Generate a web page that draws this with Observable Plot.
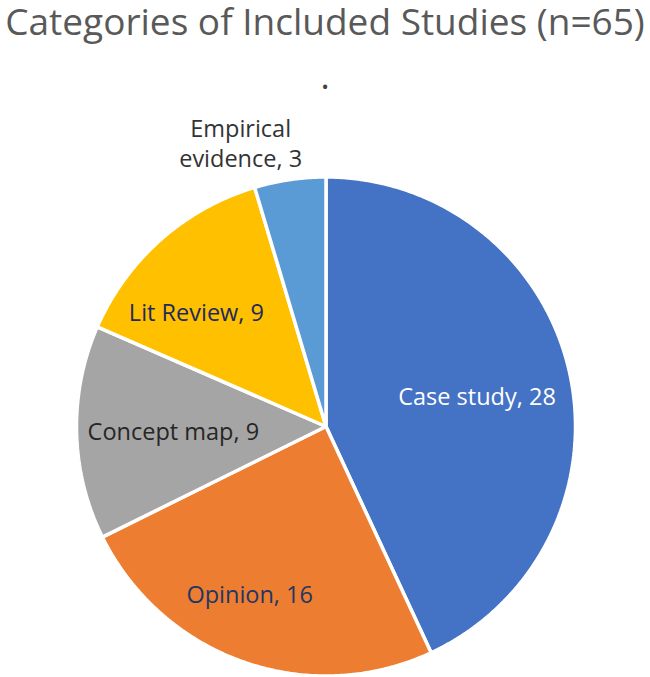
<!DOCTYPE html>
<html>
<head>
<meta charset="utf-8">
<script src="https://cdn.jsdelivr.net/npm/d3@7"></script>
<script src="https://cdn.jsdelivr.net/npm/@observablehq/plot@0.6"></script>
<style>
  html, body { margin: 0; padding: 0; background: #fff; }
  #wrap { width: 650px; height: 677px; overflow: hidden; position: relative; font-family: "Open Sans", "Noto Sans", sans-serif; }
  #title { position: absolute; left: 50%; transform: translateX(-50%); top: 1px; line-height: 40px; font-size: 37px; color: #595959; white-space: nowrap; }
  #sub { position: absolute; left: 50%; transform: translateX(-50%); top: 58px; font-size: 35px; color: #404040; line-height: 1; }
  #chart { position: absolute; left: 0; top: 100px; }
</style>
</head>
<body>
<div id="wrap">
  <div id="title">Categories of Included Studies (n=65)</div>
  <div id="sub">.</div>
  <div id="chart"></div>
</div>
<script>
const categories = ["Case study", "Opinion", "Concept map", "Lit Review", "Empirical evidence"];
const counts = [28, 16, 9, 9, 3];
const colors = ["#4472C4", "#ED7D31", "#A5A5A5", "#FFC000", "#5B9BD5"];
const labelColors = ["#ffffff", "#1f3864", "#262626", "#1f2a5c", "#333333"];
const labelTexts = ["Case study, 28", "Opinion, 16", "Concept map, 9", "Lit Review, 9", "Empirical\nevidence, 3"];

const data = categories.map((c, i) => ({category: c, count: counts[i]}));
const arcs = d3.pie().value(d => d.count).sort(null)(data);

// build slice polygons (unit radius) from pie angles
const pts = [];
for (const a of arcs) {
  const cat = a.data.category;
  pts.push({category: cat, x: 0, y: 0});
  const n = Math.max(8, Math.ceil((a.endAngle - a.startAngle) / 0.01));
  for (let k = 0; k <= n; k++) {
    const t = a.startAngle + (a.endAngle - a.startAngle) * k / n;
    pts.push({category: cat, x: Math.sin(t), y: Math.cos(t)});
  }
  pts.push({category: cat, x: 0, y: 0});
}

// label anchors: centroid at 0.62 radius, with per-label pixel nudges
const nudge = [[0, 2], [-25, 21], [2, 0], [-27, 1], [-63, -131]];
const labels = arcs.map((a, i) => {
  const m = (a.startAngle + a.endAngle) / 2;
  return {x: 0.62 * Math.sin(m), y: 0.62 * Math.cos(m), text: labelTexts[i], color: labelColors[i], dx: nudge[i][0], dy: nudge[i][1]};
});

const R = 249.5, cx = 325.5, cy = 326, W = 650, H = 577;
const plot = Plot.plot({
  width: W, height: H,
  margin: 0,
  x: {domain: [-cx / R, (W - cx) / R], range: [0, W], axis: null},
  y: {domain: [(cy - H) / R, cy / R], range: [H, 0], axis: null},
  color: {domain: categories, range: colors},
  style: {fontFamily: "'Open Sans', 'Noto Sans', sans-serif", background: "transparent"},
  marks: [
    Plot.line(pts, {x: "x", y: "y", z: "category", fill: "category", stroke: "white", strokeWidth: 3.5, strokeLinejoin: "miter", curve: "linear"}),
    ...labels.map(l => Plot.text([l], {x: "x", y: "y", text: "text", fill: l.color, dx: l.dx, dy: l.dy, fontSize: 23.5, lineHeight: 1.25}))
  ]
});
document.getElementById("chart").appendChild(plot);
</script>
</body>
</html>
